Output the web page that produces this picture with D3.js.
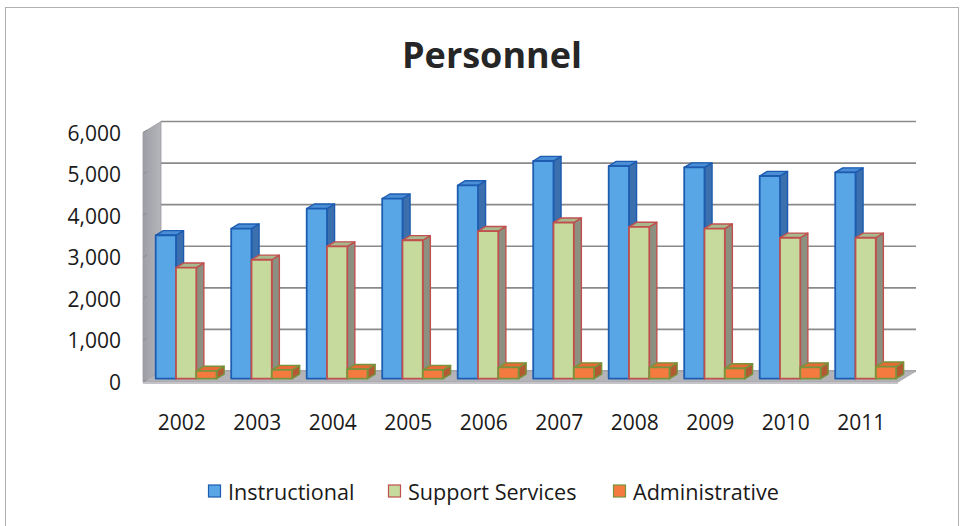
<!DOCTYPE html>
<html>
<head>
<meta charset="utf-8">
<script src="https://cdn.jsdelivr.net/npm/d3@7"></script>
<style>
  html, body { margin: 0; padding: 0; background: #fff; }
  svg { display: block; }
  text { font-family: "Open Sans", "DejaVu Sans", sans-serif; fill: #1a1a1a; }
</style>
</head>
<body>
<svg id="chart" width="963" height="526"></svg>
<script>
// ---- Data ----
const categories = ["2002","2003","2004","2005","2006","2007","2008","2009","2010","2011"];
const seriesNames = ["Instructional", "Support Services", "Administrative"];
const instructional = [3450, 3610, 4090, 4330, 4650, 5235, 5115, 5080, 4875, 4960];
const supportServices = [2670, 2860, 3180, 3330, 3550, 3755, 3650, 3610, 3390, 3390];
const administrative = [190, 210, 230, 210, 270, 270, 270, 250, 270, 290];
const yTicks = [0, 1000, 2000, 3000, 4000, 5000, 6000];
const title = "Personnel";

const seriesValues = [instructional, supportServices, administrative];
const styles = [
  { front: "#58a6e6", side: "#3b6fae", top: "#4a8ed6", stroke: "#1d5cb0" },
  { front: "#c6da9e", side: "#8b9080", top: "#a9b98e", stroke: "#c0504d" },
  { front: "#f57a40", side: "#b35a33", top: "#e56c36", stroke: "#77933c" }
];

const svg = d3.select("#chart");

// frame
svg.append("rect").attr("x", 5.5).attr("y", 7.5).attr("width", 953).attr("height", 540)
  .attr("fill", "#fff").attr("stroke", "#b0b0b0").attr("stroke-width", 1);

// ---- Scales ----
const x = d3.scaleBand().domain(categories).range([143, 898]);
const xs = d3.scaleBand().domain(seriesNames).range([0, x.bandwidth()]).paddingOuter(0.36);
const y = d3.scaleLinear().domain([0, 6000]).range([382, 132.5]);
const DX = 18, DY = 11;
const P = (px, v, d) => [px + d * DX, y(v) - d * DY];
const poly = pts => pts.map(p => p.join(",")).join(" ");

// back wall
const [xl, xr] = x.range();
svg.append("polygon")
  .attr("points", poly([P(xl, 0, 1), P(xr, 0, 1), P(xr, 6000, 1), P(xl, 6000, 1)]))
  .attr("fill", "#fff");

// gridlines on back wall
svg.append("g").selectAll("line").data(yTicks).join("line")
  .attr("x1", d => P(xl, d, 1)[0]).attr("y1", d => P(xl, d, 1)[1])
  .attr("x2", d => P(xr, d, 1)[0]).attr("y2", d => P(xr, d, 1)[1])
  .attr("stroke", "#8a8a8a").attr("stroke-width", 1.6);

// left wall
const wallGrad = svg.append("defs").append("linearGradient").attr("id", "wallg")
  .attr("x1", "0").attr("x2", "1").attr("y1", "0").attr("y2", "0");
wallGrad.append("stop").attr("offset", "0").attr("stop-color", "#9e9ea6");
wallGrad.append("stop").attr("offset", "1").attr("stop-color", "#b4b4ba");
svg.append("polygon")
  .attr("points", poly([P(xl, 0, 0), P(xl, 6000, 0), P(xl, 6000, 1), P(xl, 0, 1)]))
  .attr("fill", "url(#wallg)").attr("stroke", "#9a9aa0").attr("stroke-width", 0.8);

// floor
svg.append("polygon")
  .attr("points", poly([P(xl, 0, 0), P(xr, 0, 0), P(xr, 0, 1), P(xl, 0, 1)]))
  .attr("fill", "#b4b4b8").attr("stroke", "#a0a0a6").attr("stroke-width", 0.8);
svg.append("line")
  .attr("x1", P(xl, 0, 0)[0]).attr("y1", P(xl, 0, 0)[1] + 1)
  .attr("x2", P(xr, 0, 0)[0]).attr("y2", P(xr, 0, 0)[1] + 1)
  .attr("stroke", "#c4c4c8").attr("stroke-width", 2);

// small axis ticks on left wall edge
svg.append("g").selectAll("line").data(yTicks).join("line")
  .attr("x1", d => P(xl, d, 0)[0]).attr("y1", d => P(xl, d, 0)[1])
  .attr("x2", d => P(xl, d, 0)[0] + 4).attr("y2", d => P(xl, d, 0)[1] - 2.5)
  .attr("stroke", "#8c8c92").attr("stroke-width", 1);

// ---- Bars ----
const d0 = 0.3, d1 = 0.72;
const barsG = svg.append("g");
categories.forEach((cat, ci) => {
  seriesNames.forEach((s, si) => {
    const v = seriesValues[si][ci];
    const st = styles[si];
    const x0 = x(cat) + xs(s), x1 = x0 + xs.bandwidth();
    const g = barsG.append("g");
    g.append("polygon")
      .attr("points", poly([P(x1, 0, d0), P(x1, 0, d1), P(x1, v, d1), P(x1, v, d0)]))
      .attr("fill", st.side).attr("stroke", st.stroke).attr("stroke-width", 1.4).attr("stroke-linejoin", "round");
    g.append("polygon")
      .attr("points", poly([P(x0, v, d0), P(x1, v, d0), P(x1, v, d1), P(x0, v, d1)]))
      .attr("fill", st.top).attr("stroke", st.stroke).attr("stroke-width", 1.4).attr("stroke-linejoin", "round");
    g.append("polygon")
      .attr("points", poly([P(x0, 0, d0), P(x1, 0, d0), P(x1, v, d0), P(x0, v, d0)]))
      .attr("fill", st.front).attr("stroke", st.stroke).attr("stroke-width", 1.8).attr("stroke-linejoin", "round");
  });
});

// ---- Axis labels ----
const fmt = d3.format(",");
svg.append("g").selectAll("text").data(yTicks).join("text")
  .attr("x", 121).attr("y", d => y(d))
  .attr("text-anchor", "end").attr("dominant-baseline", "central")
  .attr("font-size", 21)
  .text(d => fmt(d));

svg.append("g").selectAll("text").data(categories).join("text")
  .attr("x", d => x(d) + x.bandwidth() / 2 + 1).attr("y", 422)
  .attr("text-anchor", "middle").attr("dominant-baseline", "central")
  .attr("font-size", 21)
  .text(d => d);

// ---- Title ----
svg.append("text").attr("x", 492).attr("y", 68)
  .attr("text-anchor", "middle").attr("font-size", 36).attr("font-weight", "bold")
  .style("fill", "#262626")
  .text(title);

// ---- Legend ----
const legendX = [208, 388, 613];
const lg = svg.append("g").selectAll("g").data(seriesNames).join("g")
  .attr("transform", (d, i) => `translate(${legendX[i]},491)`);
lg.append("rect").attr("x", 0.5).attr("y", -6).attr("width", 12).attr("height", 12)
  .attr("fill", (d, i) => styles[i].front).attr("stroke", (d, i) => styles[i].stroke).attr("stroke-width", 1.2);
lg.append("text").attr("x", 20).attr("y", 0).attr("dominant-baseline", "central")
  .attr("font-size", 21.6).text(d => d);
</script>
</body>
</html>
